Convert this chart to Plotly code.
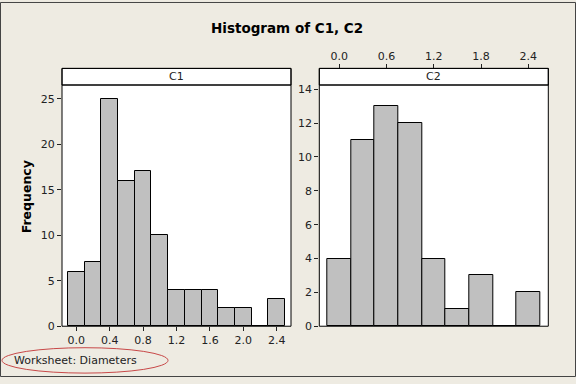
import plotly.graph_objects as go

W, H = 576, 384

# Data
c1_bins = [0.0, 0.2, 0.4, 0.6, 0.8, 1.0, 1.2, 1.4, 1.6, 1.8, 2.0, 2.2, 2.4]
c1_counts = [6, 7, 25, 16, 17, 10, 4, 4, 4, 2, 2, 0, 3]
c2_bins = [0.0, 0.3, 0.6, 0.9, 1.2, 1.5, 1.8, 2.1, 2.4]
c2_counts = [4, 11, 13, 12, 4, 1, 3, 0, 2]
c1_ticks = [0.0, 0.4, 0.8, 1.2, 1.6, 2.0, 2.4]
c2_ticks = [0.0, 0.6, 1.2, 1.8, 2.4]
c1_yticks = [0, 5, 10, 15, 20, 25]
c2_yticks = [0, 2, 4, 6, 8, 10, 12, 14]

BG = "#EEEBE2"
BAR = "#C0C0C0"
FONT = "DejaVu Sans"

def px(x):
    return x / W

def py(y):
    return 1 - y / H

L1, R1 = 62, 291
L2, R2 = 319.3, 548.3
TOP, HDR, BOT = 68, 85, 332

fig = go.Figure()
fig.add_trace(go.Bar(x=c1_bins, y=c1_counts, width=0.2, xaxis="x", yaxis="y",
                     marker=dict(color=BAR, line=dict(color="black", width=1)),
                     showlegend=False, hoverinfo="x+y"))
fig.add_trace(go.Bar(x=c2_bins, y=c2_counts, width=0.3, xaxis="x2", yaxis="y2",
                     marker=dict(color=BAR, line=dict(color="black", width=1)),
                     showlegend=False, hoverinfo="x+y"))

tickfont = dict(family=FONT, size=11, color="#222")
axis_common = dict(showgrid=False, zeroline=False, showline=False,
                   ticks="outside", ticklen=4, tickcolor="#222", tickwidth=1,
                   tickfont=tickfont)

fig.update_layout(
    width=W, height=H,
    margin=dict(l=0, r=0, t=0, b=0),
    paper_bgcolor=BG, plot_bgcolor="white",
    bargap=0,
    xaxis=dict(domain=[px(L1), px(R1)], range=[-0.171, 2.571], anchor="y",
               tickvals=c1_ticks, ticktext=[f"{v:.1f}" for v in c1_ticks], **axis_common),
    yaxis=dict(domain=[py(BOT), py(HDR)], range=[0, 26.5], anchor="x",
               tickvals=c1_yticks, **axis_common),
    xaxis2=dict(domain=[px(L2), px(R2)], range=[-0.254, 2.654], anchor="free",
                position=py(TOP), side="top",
                tickvals=c2_ticks, ticktext=[f"{v:.1f}" for v in c2_ticks], **axis_common),
    yaxis2=dict(domain=[py(BOT), py(HDR)], range=[0, 14.25], anchor="x2",
                tickvals=c2_yticks, **axis_common),
    font=dict(family=FONT, color="#222"),
)

shapes = []
for (l, r) in [(L1, R1), (L2, R2)]:
    shapes.append(dict(type="rect", xref="paper", yref="paper",
                       x0=px(l), x1=px(r), y0=py(HDR), y1=py(TOP),
                       fillcolor="white", line=dict(color="black", width=1), layer="below"))
    shapes.append(dict(type="rect", xref="paper", yref="paper",
                       x0=px(l), x1=px(r), y0=py(BOT), y1=py(TOP),
                       fillcolor="rgba(0,0,0,0)", line=dict(color="black", width=1), layer="above"))
    shapes.append(dict(type="line", xref="paper", yref="paper",
                       x0=px(l), x1=px(r), y0=py(HDR), y1=py(HDR),
                       line=dict(color="black", width=1), layer="above"))
# ellipse around worksheet label
shapes.append(dict(type="circle", xref="paper", yref="paper",
                   x0=px(2), x1=px(168), y0=py(380), y1=py(354),
                   line=dict(color="#C84848", width=1)))
# outer border
shapes.append(dict(type="rect", xref="paper", yref="paper",
                   x0=px(0.5), x1=px(575.5), y0=py(383.5), y1=py(0.5),
                   line=dict(color="#444", width=1)))
fig.update_layout(shapes=shapes)

annotations = [
    dict(text="<b>Histogram of C1, C2</b>", x=px(287), y=py(27), xref="paper", yref="paper",
         showarrow=False, font=dict(family=FONT, size=13.5, color="black"),
         xanchor="center", yanchor="middle"),
    dict(text="C1", x=px((L1 + R1) / 2), y=py(76.5), xref="paper", yref="paper",
         showarrow=False, font=dict(family=FONT, size=11, color="#222"),
         xanchor="center", yanchor="middle"),
    dict(text="C2", x=px((L2 + R2) / 2), y=py(76.5), xref="paper", yref="paper",
         showarrow=False, font=dict(family=FONT, size=11, color="#222"),
         xanchor="center", yanchor="middle"),
    dict(text="<b>Frequency</b>", x=px(26), y=py(200), xref="paper", yref="paper",
         showarrow=False, textangle=-90, font=dict(family=FONT, size=12.5, color="black"),
         xanchor="center", yanchor="middle"),
    dict(text="Worksheet: Diameters", x=px(12), y=py(367), xref="paper", yref="paper",
         showarrow=False, font=dict(family=FONT, size=11, color="#222"),
         xanchor="left", yanchor="middle"),
]
fig.update_layout(annotations=annotations)

fig.write_html("out.html", config={"displayModeBar": False},
               post_script="document.body.style.margin='0px';document.body.style.padding='0px';")
